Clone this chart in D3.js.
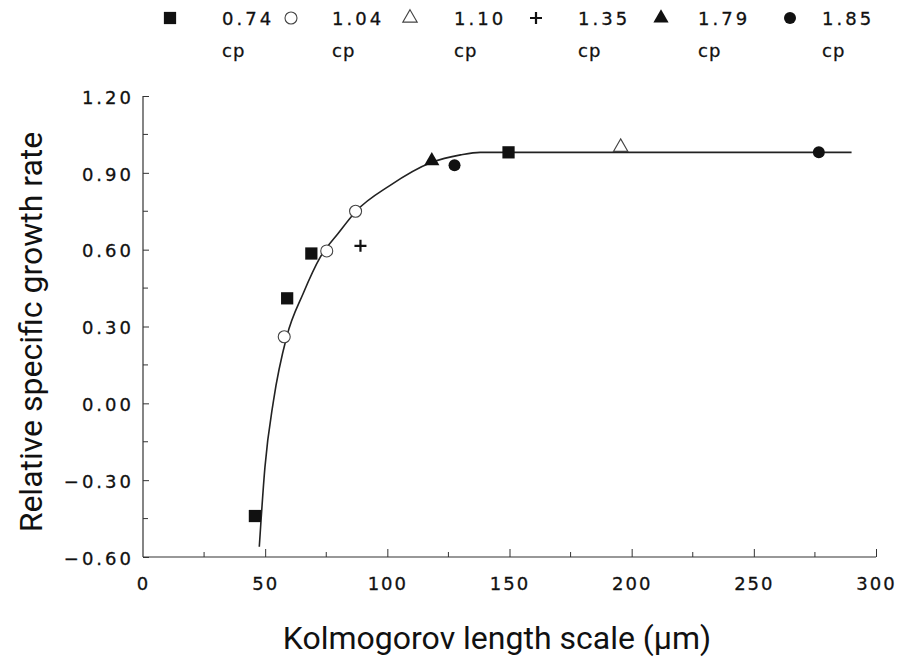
<!DOCTYPE html>
<html>
<head>
<meta charset="utf-8">
<script src="https://cdn.jsdelivr.net/npm/d3@7"></script>
<style>
  body { margin: 0; background: #fff; }
  .tick text { font-family: "DejaVu Sans", sans-serif; font-size: 18px; letter-spacing: 3px; fill: #111; stroke: #111; stroke-width: 0.3px; }
  .xax .tick text { letter-spacing: 2px; }
  .title { font-family: Roboto, "Noto Sans", sans-serif; font-size: 32px; fill: #111; }
  .leg { font-family: "DejaVu Sans", sans-serif; font-size: 18px; letter-spacing: 3px; fill: #111; stroke: #111; stroke-width: 0.3px; }
  .cp { font-family: "DejaVu Sans", sans-serif; font-size: 18px; letter-spacing: 1px; fill: #111; stroke: #111; stroke-width: 0.3px; }
</style>
</head>
<body>
<div id="chart"></div>
<script>
// legend / series
var seriesNames = ["0.74", "1.04", "1.10", "1.35", "1.79", "1.85"];
var seriesSymbols = ["square", "circleOpen", "triangleOpen", "plus", "triangle", "circle"];

// points: [kolmogorov length, relative growth rate]
var pts074 = [[45.8, -0.44], [59.0, 0.41], [68.9, 0.585], [149.6, 0.98]];
var pts104 = [[57.8, 0.26], [75.2, 0.595], [87.0, 0.75]];
var pts110 = [[195.5, 1.0]];
var pts135 = [[89.0, 0.615]];
var pts179 = [[118.2, 0.947]];
var pts185 = [[127.5, 0.93], [276.6, 0.98]];

// fitted curve
var curveX = [47.6, 49.9, 53.4, 58.8, 65.6, 72.5, 80, 87.2, 101, 118, 130, 138, 150, 200, 250, 290];
var curveY = [-0.56, -0.25, 0.01, 0.26, 0.43, 0.57, 0.665, 0.75, 0.85, 0.94, 0.97, 0.98, 0.98, 0.98, 0.98, 0.98];

var yTicks = [-0.6, -0.3, 0, 0.3, 0.6, 0.9, 1.2];
var yMinor = [-0.45, -0.15, 0.15, 0.45, 0.75, 1.05];
var xTicks = [0, 50, 100, 150, 200, 250, 300];
var xMinor = [25, 75, 125, 175, 225, 275];

var width = 899, height = 661;
var svg = d3.select("#chart").append("svg")
    .attr("width", width)
    .attr("height", height);

var x = d3.scaleLinear().domain([0, 300]).range([143, 876]);
var y = d3.scaleLinear().domain([-0.6, 1.2]).range([557, 96]);

var axisColor = "#333";

// y axis
var gy = svg.append("g").attr("transform", "translate(" + x(0) + ",0)");
gy.call(d3.axisLeft(y).tickValues(yTicks).tickSize(-6).tickPadding(9)
    .tickFormat(function (d) { return d3.format(".2f")(d); }));
gy.select(".domain").remove();
gy.selectAll(".tick line").attr("stroke", axisColor);
gy.selectAll(".tick text").attr("dy", "0.4em");
gy.append("g").selectAll("line").data(yMinor).enter().append("line")
    .attr("x1", 0).attr("x2", 5)
    .attr("y1", function (d) { return y(d); }).attr("y2", function (d) { return y(d); })
    .attr("stroke", axisColor);
gy.append("line").attr("x1", 0).attr("x2", 0).attr("y1", y(1.2)).attr("y2", y(-0.6))
    .attr("stroke", axisColor).attr("stroke-width", 1.2);

// x axis
var gx = svg.append("g").attr("class", "xax").attr("transform", "translate(0," + y(-0.6) + ")");
gx.call(d3.axisBottom(x).tickValues(xTicks).tickSize(-8).tickPadding(20));
gx.select(".domain").remove();
gx.selectAll(".tick line").attr("stroke", axisColor);
gx.selectAll(".tick line").filter(function (d) { return d === 0; }).remove();
gx.append("g").selectAll("line").data(xMinor).enter().append("line")
    .attr("x1", function (d) { return x(d); }).attr("x2", function (d) { return x(d); })
    .attr("y1", 0).attr("y2", -5)
    .attr("stroke", axisColor);
gx.append("line").attr("x1", x(0)).attr("x2", x(300)).attr("y1", 0).attr("y2", 0)
    .attr("stroke", axisColor).attr("stroke-width", 1.2);

// axis titles
svg.append("text").attr("class", "title")
    .attr("text-anchor", "middle")
    .attr("transform", "translate(42,332) rotate(-90)")
    .text("Relative specific growth rate");
svg.append("text").attr("class", "title")
    .attr("text-anchor", "middle")
    .attr("x", 497).attr("y", 649)
    .text("Kolmogorov length scale (\u00b5m)");

// fitted curve
var line = d3.line()
    .x(function (d) { return x(d[0]); })
    .y(function (d) { return y(d[1]); })
    .curve(d3.curveMonotoneX);
svg.append("path")
    .datum(d3.zip(curveX, curveY))
    .attr("d", line)
    .attr("fill", "none")
    .attr("stroke", "#222")
    .attr("stroke-width", 1.6);

// markers
function drawSymbol(g, kind, cx, cy) {
    if (kind === "square") {
        g.append("path").attr("d", d3.symbol().type(d3.symbolSquare).size(150)())
            .attr("transform", "translate(" + cx + "," + cy + ")").attr("fill", "#111");
    } else if (kind === "circleOpen") {
        g.append("circle").attr("cx", cx).attr("cy", cy).attr("r", 6)
            .attr("fill", "#fff").attr("stroke", "#444").attr("stroke-width", 1.1);
    } else if (kind === "circle") {
        g.append("circle").attr("cx", cx).attr("cy", cy).attr("r", 6).attr("fill", "#111");
    } else if (kind === "triangleOpen") {
        g.append("path").attr("d", d3.symbol().type(d3.symbolTriangle).size(90)())
            .attr("transform", "translate(" + cx + "," + cy + ")")
            .attr("fill", "#fff").attr("stroke", "#444").attr("stroke-width", 1.1);
    } else if (kind === "triangle") {
        g.append("path").attr("d", d3.symbol().type(d3.symbolTriangle).size(100)())
            .attr("transform", "translate(" + cx + "," + cy + ")").attr("fill", "#111");
    } else if (kind === "plus") {
        g.append("path").attr("d", "M-6,0H6M0,-6V6")
            .attr("transform", "translate(" + cx + "," + cy + ")")
            .attr("stroke", "#111").attr("stroke-width", 2.2);
    }
}

var allPts = [pts074, pts104, pts110, pts135, pts179, pts185];
var gm = svg.append("g");
allPts.forEach(function (pts, i) {
    pts.forEach(function (p) {
        drawSymbol(gm, seriesSymbols[i], x(p[0]), y(p[1]));
    });
});

// legend
var legSymX = [170, 291, 410, 536, 661, 790];
var legTextX = [222, 332, 454, 578, 698, 822];
var gl = svg.append("g");
seriesNames.forEach(function (name, i) {
    drawSymbol(gl, seriesSymbols[i], legSymX[i], 18);
    gl.append("text").attr("class", "leg").attr("x", legTextX[i]).attr("y", 25).text(name);
    gl.append("text").attr("class", "cp").attr("x", legTextX[i]).attr("y", 57).text("cp");
});
</script>
</body>
</html>
